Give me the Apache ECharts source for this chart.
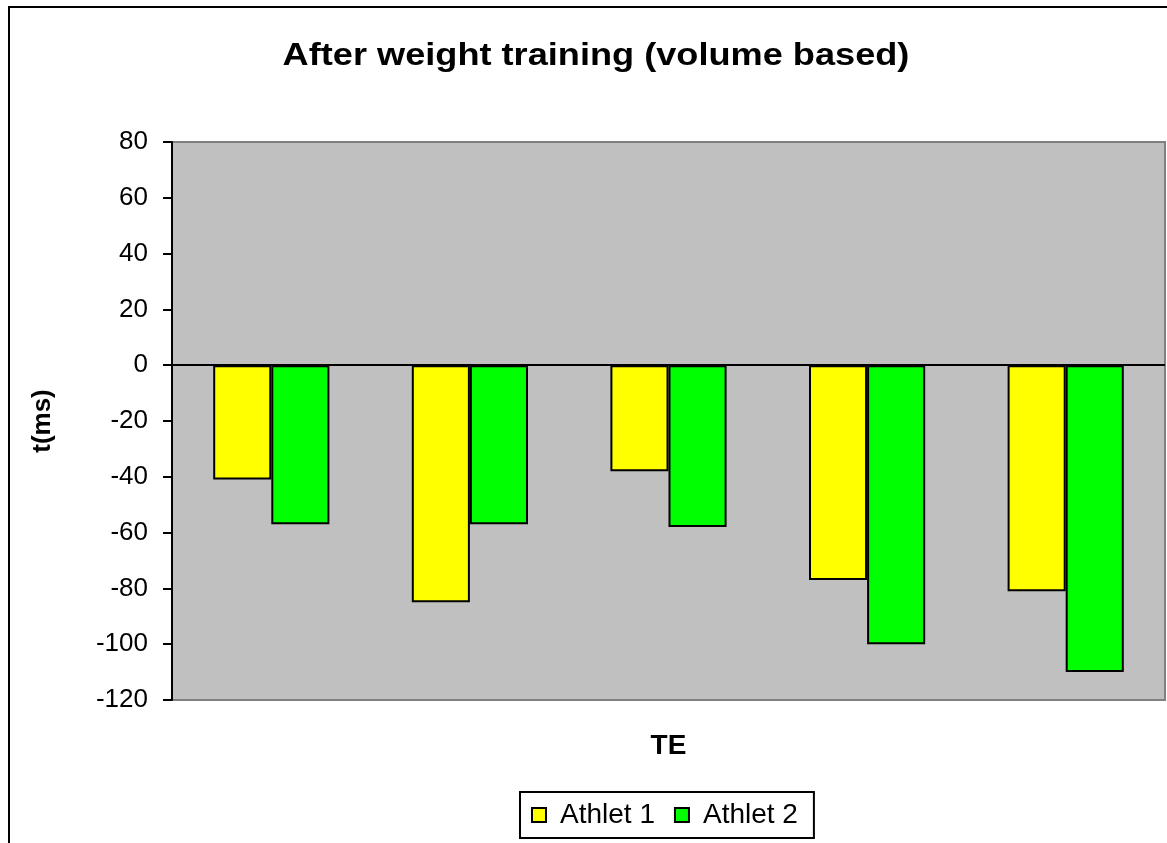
<!DOCTYPE html>
<html>
<head>
<meta charset="utf-8">
<script src="https://cdn.jsdelivr.net/npm/echarts@6/dist/echarts.min.js"></script>
<style>
  html, body { margin: 0; padding: 0; background: #ffffff; }
  #chart { width: 1167px; height: 843px; }
</style>
</head>
<body>
<div id="chart"></div>
<script>
// Reaction time change per test, after volume-based weight training
const categories = ['1', '2', '3', '4', '5'];
const athlete1 = [-41, -85, -38, -77, -81];
const athlete2 = [-57, -57, -58, -100, -110];
const yTicks = { min: -120, max: 80, interval: 20 };

const FONT = '"Liberation Sans", Arial, sans-serif';
const chart = echarts.init(document.getElementById('chart'));

const barStyle = (color) => ({
  color: color,
  borderColor: '#000000',
  borderWidth: 2
});

chart.setOption({
  animation: false,
  backgroundColor: '#ffffff',
  textStyle: { fontFamily: FONT },
  graphic: [
    {
      type: 'rect',
      shape: { x: 9, y: 7, width: 1200, height: 900 },
      style: { fill: 'none', stroke: '#000000', lineWidth: 2 },
      silent: true,
      z: -1
    },
    {
      type: 'text',
      x: 596,
      y: 56,
      scaleX: 1.13,
      style: {
        x: 0, y: 0,
        text: 'After weight training (volume based)',
        font: 'bold 32px ' + FONT,
        fill: '#000000',
        textAlign: 'center',
        textVerticalAlign: 'middle'
      }
    }
  ],
  legend: {
    left: 520,
    top: 792,
    padding: [9, 16, 9, 11],
    borderColor: '#000000',
    borderWidth: 2,
    itemWidth: 14,
    itemHeight: 14,
    itemGap: 19,
    icon: 'rect',
    itemStyle: { borderColor: '#000000', borderWidth: 2 },
    textStyle: { fontSize: 28, color: '#000000', fontFamily: FONT, padding: [0, 0, 0, 9] },
    data: ['Athlet 1', 'Athlet 2']
  },
  grid: {
    left: 172,
    top: 142,
    width: 993,
    height: 558,
    show: true,
    backgroundColor: '#c0c0c0',
    borderColor: '#808080',
    borderWidth: 2
  },
  xAxis: {
    type: 'category',
    data: categories,
    name: 'TE',
    nameLocation: 'middle',
    nameGap: 32,
    nameTextStyle: { fontSize: 28, fontWeight: 'bold', color: '#000000', fontFamily: FONT },
    axisLine: { show: false, onZero: false },
    axisTick: { show: false },
    axisLabel: { show: false },
    splitLine: { show: false }
  },
  yAxis: {
    type: 'value',
    min: yTicks.min,
    max: yTicks.max,
    interval: yTicks.interval,
    name: 't(ms)',
    nameLocation: 'middle',
    nameGap: 116,
    nameRotate: 90,
    nameTextStyle: { fontSize: 26, fontWeight: 'bold', color: '#000000', fontFamily: FONT },
    axisLine: { show: true, lineStyle: { color: '#000000', width: 2 } },
    axisTick: { show: true, length: 9, lineStyle: { color: '#000000', width: 2 } },
    axisLabel: { fontSize: 26, color: '#000000', margin: 24, fontFamily: FONT, padding: [6, 0, 0, 0] },
    splitLine: { show: false }
  },
  series: [
    {
      name: 'Athlet 1',
      type: 'bar',
      data: athlete1,
      barGap: '0%',
      barCategoryGap: '41.5%',
      itemStyle: barStyle('#ffff00'),
      markLine: {
        silent: true,
        symbol: 'none',
        label: { show: false },
        lineStyle: { color: '#000000', width: 2, type: 'solid' },
        data: [{ yAxis: 0 }],
        z: 10
      }
    },
    {
      name: 'Athlet 2',
      type: 'bar',
      data: athlete2,
      itemStyle: barStyle('#00ff00')
    }
  ]
});
</script>
</body>
</html>
